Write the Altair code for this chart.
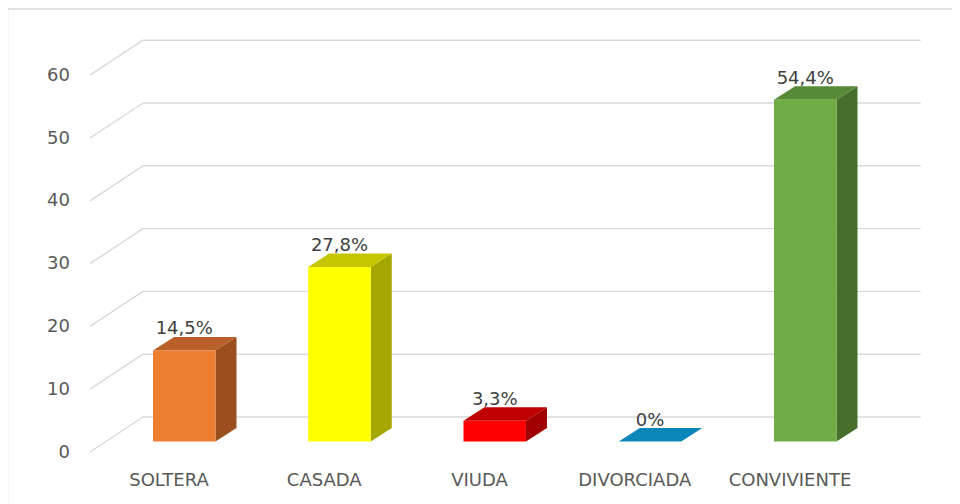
import altair as alt
import pandas as pd

# ---- data ----
CATEGORIES = ["SOLTERA", "CASADA", "VIUDA", "DIVORCIADA", "CONVIVIENTE"]
VALUES = [14.5, 27.8, 3.3, 0.0, 54.4]
Y_TICKS = [0, 10, 20, 30, 40, 50, 60]

# ---- styles ----
FRONT_COLORS = ["#ED7D31", "#FFFF00", "#FF0000", "#0A99CF", "#70AD47"]
TOP_COLORS = ["#B9602A", "#C6C600", "#C00000", "#0A86B8", "#578A37"]
SIDE_COLORS = ["#9A4F1D", "#A6A600", "#A00000", "#076A92", "#476E2A"]
GRID = "#d9d9d9"
FONT = "DejaVu Sans"

# ---- layout (pixels -> scale units) ----
PAD_L, PAD_T, PAD_R, PAD_B = 82, 0, 0, 52
W, H = 862, 444          # plot area: page x 90..952, page y 8..452
K_X = 155.25   # px per category step
K_Y = 6.28     # px per value unit
X0 = 78.5      # view px of first category label centre
x_dom = [-X0 / K_X, (W - X0) / K_X]
y_dom = [0, H / K_Y]


def ux(p):
    return p / K_X


def uy(p):
    return p / K_Y


FRONT_L, FRONT_R = ux(-15.5), ux(47)
DEPTH_X, DEPTH_Y = ux(21), uy(13.5)
BASE = uy(10.5)
WALL_L, WALL_BL, WALL_R = (0 - X0) / K_X, (53 - X0) / K_X, (830.7 - X0) / K_X
FLOOR_DY = uy(35)

xs = alt.Scale(domain=x_dom, nice=False, zero=False)
ys = alt.Scale(domain=y_dom, nice=False, zero=False)

# ---- tables built from the arrays ----
bars = pd.DataFrame({"cat": CATEGORIES, "idx": list(range(len(CATEGORIES))), "value": VALUES})
bars["x"] = bars["idx"] + FRONT_L
bars["x2"] = bars["idx"] + FRONT_R
bars["xc"] = bars["idx"] + (FRONT_L + FRONT_R) / 2
bars["y"] = BASE
bars["y2"] = BASE + bars["value"]

side_rows, top_rows = [], []
for c, i, v in zip(CATEGORIES, range(len(CATEGORIES)), VALUES):
    side_rows.append({"cat": c, "x": i + FRONT_R, "ylo": BASE, "yhi": BASE + v})
    side_rows.append({"cat": c, "x": i + FRONT_R + DEPTH_X, "ylo": BASE + DEPTH_Y, "yhi": BASE + v + DEPTH_Y})
    top_rows.append({"cat": c, "y": BASE + v, "xlo": i + FRONT_L, "xhi": i + FRONT_R})
    top_rows.append({"cat": c, "y": BASE + v + DEPTH_Y, "xlo": i + FRONT_L + DEPTH_X, "xhi": i + FRONT_R + DEPTH_X})
side = pd.DataFrame(side_rows)
top = pd.DataFrame(top_rows)

grid = pd.DataFrame({"v": Y_TICKS})
grid["xa"] = WALL_L
grid["xb"] = WALL_BL
grid["xc"] = WALL_R
grid["vb"] = grid["v"] + FLOOR_DY

label_expr = "[" + ",".join("'" + c + "'" for c in CATEGORIES) + "][datum.value]"

one = pd.DataFrame({"k": [0]})

y_axis = alt.Axis(
    values=Y_TICKS, orient="left", ticks=False, tickSize=0, domain=False,
    grid=False, labelPadding=20.5, labelFont=FONT, labelFontSize=18, labelColor="#595959",
    title=None, labelFlush=False, labelOverlap=False)
x_axis = alt.Axis(
    values=list(range(len(CATEGORIES))), labelExpr=label_expr, orient="bottom",
    ticks=False, tickSize=0, domain=False, grid=False, labelPadding=28,
    labelBaseline="middle", labelFont=FONT, labelFontSize=18, labelColor="#595959", title=None,
    labelFlush=False, labelOverlap=False)

# ---- layers ----
diag = alt.Chart(grid).mark_rule(color=GRID, strokeWidth=1.4).encode(
    x=alt.X("xa:Q", scale=xs, axis=x_axis),
    x2="xb:Q",
    y=alt.Y("v:Q", scale=ys, axis=y_axis),
    y2="vb:Q",
)

back = alt.Chart(grid).mark_rule(color=GRID, strokeWidth=1.4).encode(
    x=alt.X("xb:Q", scale=xs),
    x2="xc:Q",
    y=alt.Y("vb:Q", scale=ys),
)

border_left = alt.Chart(one).mark_rule(color=GRID, strokeWidth=1.5).encode(
    x=alt.value(-PAD_L - 0.5), y=alt.value(1), y2=alt.value(H + PAD_B)
)
border_top = alt.Chart(one).mark_rule(color=GRID, strokeWidth=1.5).encode(
    x=alt.value(-PAD_L - 0.5), x2=alt.value(W), y=alt.value(1)
)

side_layer = alt.Chart(side).mark_area(orient="vertical").encode(
    x=alt.X("x:Q", scale=xs),
    y=alt.Y("ylo:Q", scale=ys),
    y2="yhi:Q",
    detail="cat:N",
    color=alt.Color("cat:N", scale=alt.Scale(domain=CATEGORIES, range=SIDE_COLORS), legend=None),
)

top_layer = alt.Chart(top).mark_area(orient="horizontal").encode(
    y=alt.Y("y:Q", scale=ys),
    x=alt.X("xlo:Q", scale=xs),
    x2="xhi:Q",
    detail="cat:N",
    color=alt.Color("cat:N", scale=alt.Scale(domain=CATEGORIES, range=TOP_COLORS), legend=None),
)

front = alt.Chart(bars).mark_rect().encode(
    x=alt.X("x:Q", scale=xs),
    x2="x2:Q",
    y=alt.Y("y:Q", scale=ys),
    y2="y2:Q",
    color=alt.Color("cat:N", scale=alt.Scale(domain=CATEGORIES, range=FRONT_COLORS), legend=None),
)

labels = alt.Chart(bars).transform_calculate(
    lbl="datum.value == 0 ? '0%' : replace(format(datum.value, '.1f'), '.', ',') + '%'"
).mark_text(font=FONT, fontSize=18, color="#404040", baseline="middle", dy=-21).encode(
    x=alt.X("xc:Q", scale=xs),
    y=alt.Y("y2:Q", scale=ys),
    text="lbl:N",
)

chart = alt.layer(diag, back, border_left, border_top, side_layer, top_layer, front, labels).resolve_scale(
    color="independent"
).properties(
    width=W, height=H, autosize=alt.AutoSizeParams(type="none"),
    padding={"left": PAD_L, "top": PAD_T, "right": PAD_R, "bottom": PAD_B},
    background="white",
).configure_view(stroke=None)

chart.save("out.html", embed_options={"renderer": "svg", "actions": False})
